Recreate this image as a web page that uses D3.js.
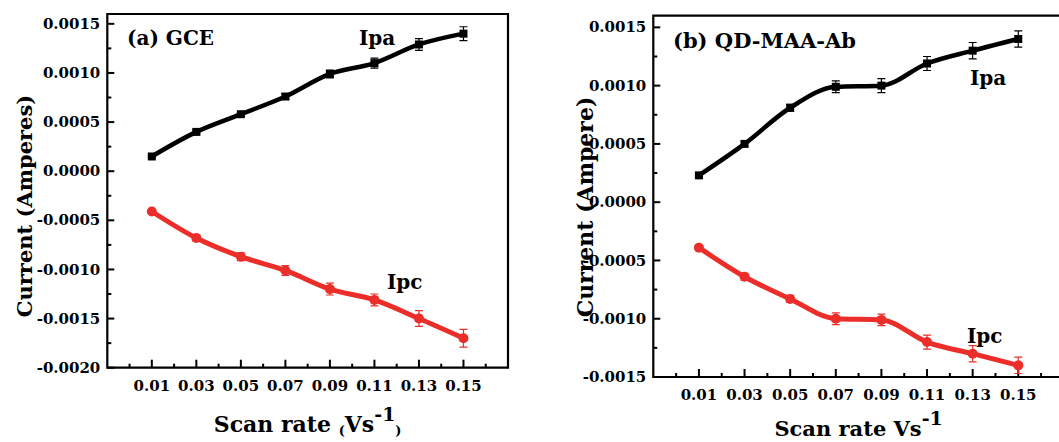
<!DOCTYPE html>
<html>
<head>
<meta charset="utf-8">
<script src="https://cdn.jsdelivr.net/npm/d3@7"></script>
<style>
  body { margin: 0; background: #fff; }
</style>
</head>
<body>
<div id="chart"></div>
<script>
// scan rates (V/s)
const scanRates = [0.01, 0.03, 0.05, 0.07, 0.09, 0.11, 0.13, 0.15];
const xTickValues = [0.01, 0.03, 0.05, 0.07, 0.09, 0.11, 0.13, 0.15];

// (a) GCE
const gceIpa = [0.00015, 0.00040, 0.00058, 0.00076, 0.00099, 0.00110, 0.00129, 0.00140];
const gceIpaErr = [0.00001, 0.00002, 0.00002, 0.00003, 0.00004, 0.00005, 0.00006, 0.00007];
const gceIpc = [-0.00041, -0.00068, -0.00087, -0.00101, -0.00120, -0.00131, -0.00150, -0.00170];
const gceIpcErr = [0.00002, 0.00003, 0.00004, 0.00005, 0.00006, 0.00006, 0.00008, 0.00009];
const gceYTicks = [-0.0020, -0.0015, -0.0010, -0.0005, 0.0000, 0.0005, 0.0010, 0.0015];

// (b) QD-MAA-Ab
const qdIpa = [0.00023, 0.00050, 0.00081, 0.00099, 0.00100, 0.00119, 0.00130, 0.00140];
const qdIpaErr = [0.00001, 0.00002, 0.00003, 0.00005, 0.00006, 0.00006, 0.00007, 0.00007];
const qdIpc = [-0.00039, -0.00064, -0.00083, -0.00100, -0.00101, -0.00120, -0.00130, -0.00140];
const qdIpcErr = [0.00001, 0.00003, 0.00003, 0.00005, 0.00005, 0.00006, 0.00007, 0.00007];
const qdYTicks = [-0.0015, -0.0010, -0.0005, 0.0000, 0.0005, 0.0010, 0.0015];

const W = 1059, H = 442;
const RED = "#ec2e2a";
const FONT = "'DejaVu Serif', 'Liberation Serif', serif";

const svg = d3.select("#chart").append("svg")
  .attr("width", W)
  .attr("height", H)
  .attr("font-family", FONT)
  .attr("font-weight", "bold");

// DejaVu Serif runs wider than Times, so sizes are scaled down a bit
function label (sel, size) {
  return sel.style("font-family", FONT)
    .style("font-weight", "bold")
    .style("font-size", size)
    .attr("fill", "#000");
}

function drawPanel (p) {
  const x = d3.scaleLinear().domain([-0.01, 0.17]).range([p.left, p.right]);
  const y = d3.scaleLinear().domain(p.yDomain).range([p.bottom, p.top]);
  const g = svg.append("g");

  // frame
  g.append("path")
    .attr("d", `M${p.left},${p.bottom}V${p.top}H${p.right}V${p.bottom}Z`)
    .attr("fill", "none")
    .attr("stroke", "#000")
    .attr("stroke-width", 2.2);

  // y ticks, pointing inward
  const yMinor = d3.range(p.yDomain[0], p.yDomain[1] + 1e-9, 0.00025);
  g.append("g").selectAll("line").data(yMinor).join("line")
    .attr("x1", p.left).attr("x2", (d, i) => p.left + (i % 2 === 0 ? 7 : 4))
    .attr("y1", d => y(d)).attr("y2", d => y(d))
    .attr("stroke", "#000").attr("stroke-width", 2);

  g.append("g").selectAll("text").data(p.yTicks).join("text")
    .attr("x", p.left - 7)
    .attr("y", d => y(d))
    .attr("dy", "0.34em")
    .attr("text-anchor", "end")
    .call(label, "15px")
    .text(d => d3.format(".4f")(d).replace("−", "-"));

  // x ticks, pointing inward
  const xMinor = d3.range(0, 0.1701, 0.01);
  g.append("g").selectAll("line").data(xMinor).join("line")
    .attr("x1", d => x(d)).attr("x2", d => x(d))
    .attr("y1", p.bottom)
    .attr("y2", (d, i) => p.bottom - (i % 2 === 1 ? 8 : 4))
    .attr("stroke", "#000").attr("stroke-width", 2);

  g.append("g").selectAll("text").data(xTickValues).join("text")
    .attr("x", d => x(d))
    .attr("y", p.bottom + 23)
    .attr("text-anchor", "middle")
    .call(label, "15px")
    .text(d => d3.format(".2f")(d));

  // series
  const line = d3.line()
    .x((d, i) => x(scanRates[i]))
    .y(d => y(d))
    .curve(d3.curveMonotoneX);

  p.series.forEach(s => {
    const sg = g.append("g");
    // error bars
    sg.selectAll("path.err").data(s.values).join("path")
      .attr("class", "err")
      .attr("d", (d, i) => {
        const cx = x(scanRates[i]);
        const y0 = y(d - s.err[i]), y1 = y(d + s.err[i]);
        return `M${cx},${y0}V${y1}M${cx - 4},${y0}H${cx + 4}M${cx - 4},${y1}H${cx + 4}`;
      })
      .attr("fill", "none")
      .attr("stroke", s.color)
      .attr("stroke-width", 1.2);

    sg.append("path")
      .datum(s.values)
      .attr("d", line)
      .attr("fill", "none")
      .attr("stroke", s.color)
      .attr("stroke-width", s.width);

    if (s.marker === "square") {
      sg.selectAll("rect").data(s.values).join("rect")
        .attr("x", (d, i) => x(scanRates[i]) - 4)
        .attr("y", d => y(d) - 4)
        .attr("width", 8).attr("height", 8)
        .attr("fill", s.color);
    } else {
      sg.selectAll("circle").data(s.values).join("circle")
        .attr("cx", (d, i) => x(scanRates[i]))
        .attr("cy", d => y(d))
        .attr("r", 5)
        .attr("fill", s.color);
    }

    g.append("text")
      .attr("x", s.labelX).attr("y", s.labelY)
      .call(label, "20px")
      .text(s.name);
  });

  // panel title
  g.append("text")
    .attr("x", p.titleX).attr("y", p.titleY)
    .call(label, p.titleSize)
    .text(p.title);

  // y axis title
  g.append("text")
    .attr("transform", `translate(${p.yTitleX},${p.yTitleY}) rotate(-90)`)
    .attr("text-anchor", "middle")
    .call(label, p.yTitleSize)
    .text(p.yTitle);

  // x axis title
  const xt = g.append("text")
    .attr("x", (p.left + p.right) / 2)
    .attr("y", p.xTitleY)
    .attr("text-anchor", "middle")
    .call(label, p.xTitleSize);
  xt.append("tspan").text("Scan rate ");
  if (p.paren) xt.append("tspan").style("font-size", "13px").attr("dy", 3).text("(");
  xt.append("tspan").attr("dy", p.paren ? -3 : 0).text("Vs");
  xt.append("tspan").style("font-size", "19px").attr("dy", -11).text("-1");
  if (p.paren) xt.append("tspan").style("font-size", "13px").attr("dy", 14).text(")");
}

drawPanel({
  left: 107.3, right: 508, top: 14, bottom: 367.7,
  yDomain: [-0.0020, 0.0016], yTicks: gceYTicks,
  title: "(a) GCE", titleX: 127, titleY: 45, titleSize: "20px",
  yTitle: "Current (Amperes)", yTitleX: 32, yTitleY: 206, yTitleSize: "21px",
  xTitleY: 432, xTitleSize: "22px", paren: true,
  series: [
    { name: "Ipa", values: gceIpa, err: gceIpaErr, color: "#000", width: 4.5, marker: "square", labelX: 359, labelY: 45 },
    { name: "Ipc", values: gceIpc, err: gceIpcErr, color: RED, width: 5, marker: "circle", labelX: 387, labelY: 289 }
  ]
});

drawPanel({
  left: 653.3, right: 1063.9, top: 15.7, bottom: 377,
  yDomain: [-0.0015, 0.0016], yTicks: qdYTicks,
  title: "(b) QD-MAA-Ab", titleX: 673, titleY: 48, titleSize: "21px",
  yTitle: "Current (Ampere)", yTitleX: 593, yTitleY: 207, yTitleSize: "22px",
  xTitleY: 436, xTitleSize: "21px", paren: false,
  series: [
    { name: "Ipa", values: qdIpa, err: qdIpaErr, color: "#000", width: 4.5, marker: "square", labelX: 970, labelY: 85 },
    { name: "Ipc", values: qdIpc, err: qdIpcErr, color: RED, width: 5, marker: "circle", labelX: 967, labelY: 343 }
  ]
});
</script>
</body>
</html>
